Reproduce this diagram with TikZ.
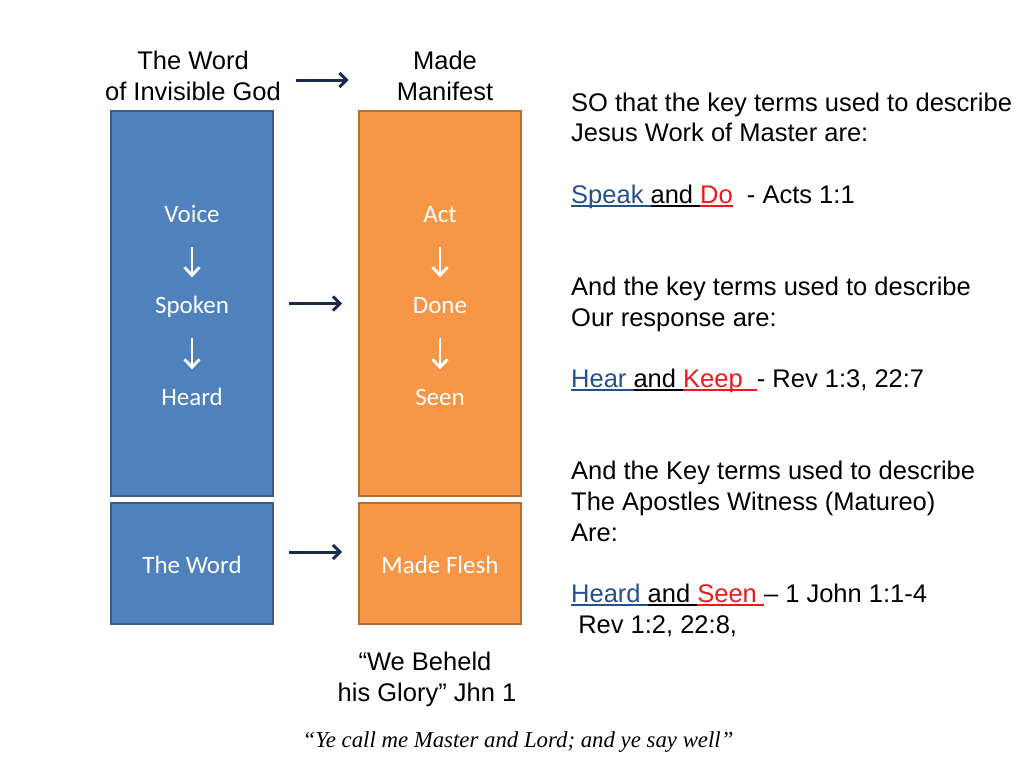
\documentclass[tikz,border=0pt]{standalone}
\usepackage{fontspec}
\setmainfont{Liberation Sans}
\newfontfamily\boxfont{Carlito}
\newfontfamily\quotefont{Liberation Serif}
\usepackage{xcolor}
\usepackage{tikz}
\usetikzlibrary{arrows.meta}
\definecolor{wordblue}{HTML}{4F81BD}
\definecolor{wordedge}{HTML}{385D8A}
\definecolor{fleshorange}{HTML}{F79646}
\definecolor{fleshedge}{HTML}{B66D31}
\definecolor{linknavy}{HTML}{1D2B4B}
\definecolor{speakblue}{HTML}{24508F}
\definecolor{dored}{HTML}{F01818}
% coloured text with a level underline
\newcommand{\ulc}[2]{{\color{#1}\setbox0\hbox{#2}\rlap{\rule[-3.6pt]{\wd0}{1.7pt}}\box0}}

\begin{document}
\begin{tikzpicture}[
  x=1pt, y=-1pt,
  colbox/.style={draw, line width=1.8pt, minimum width=162pt, inner sep=0pt},
  inbox/.style={font=\boxfont\fontsize{25}{29}\selectfont, text=white,
    anchor=base, inner sep=0pt, text height=16pt, text depth=5pt},
  title/.style={align=center, inner sep=0pt,
    font=\fontsize{25.5}{31}\selectfont},
  note/.style={anchor=base west, inner sep=0pt,
    font=\fontsize{25.5}{30.7}\selectfont},
  down/.style={draw=white, line width=2.8pt,
    -{Straight Barb[length=8pt, width=15pt]},
    shorten <=19.5pt, shorten >=19.5pt},
  link/.style={draw=linknavy, line width=3pt,
    -{Straight Barb[length=7pt, width=14pt]}}
]
  \useasboundingbox (0,0) rectangle (1024,768);

  % titles
  \node[title] (wordtitle) at (193,75.5) {The Word\\of Invisible God};
  \node[title] (madetitle) at (445,75.5) {Made\\Manifest};
  \draw[link, shorten <=15pt, shorten >=48pt]
    ([yshift=-4.5pt]wordtitle.east) -- ([yshift=-4.5pt]madetitle.west);

  % columns
  \node[colbox, fill=wordblue, draw=wordedge, minimum height=385pt]
    (wordup) at (192,303.5) {};
  \node[colbox, fill=wordblue, draw=wordedge, minimum height=121pt]
    (wordlow) at (192,563.5) {};
  \node[colbox, fill=fleshorange, draw=fleshedge, minimum height=385pt]
    (fleshup) at (440,303.5) {};
  \node[colbox, fill=fleshorange, draw=fleshedge, minimum height=121pt]
    (fleshlow) at (440,563.5) {};

  \node[inbox] (voice) at (192,222) {Voice};
  \node[inbox] (spoken) at (192,313) {Spoken};
  \node[inbox] (heard) at (192,405) {Heard};
  \node[inbox] (act) at (440,222) {Act};
  \node[inbox] (done) at (440,313) {Done};
  \node[inbox] (seen) at (440,405) {Seen};
  \node[inbox] (theword) at (192,573) {The Word};
  \node[inbox] (flesh) at (440,573) {Made Flesh};

  \draw[down] (voice) -- (spoken);
  \draw[down] (spoken) -- (heard);
  \draw[down] (act) -- (done);
  \draw[down] (done) -- (seen);

  \draw[link, shorten <=15pt, shorten >=16pt] (wordup) -- (fleshup);
  \draw[link, shorten <=15pt, shorten >=16pt]
    ([yshift=11.5pt]wordlow.east) -- ([yshift=11.5pt]fleshlow.west);

  % beneath the columns
  \node[anchor=base, inner sep=0pt, font=\fontsize{25.5}{31}\selectfont]
    (beheld) at (425,670) {``We Beheld};
  \node[anchor=base, inner sep=0pt, font=\fontsize{25.5}{31}\selectfont]
    (glory) at (427,701) {his Glory'' Jhn 1};
  \node[anchor=base, inner sep=0pt,
    font=\quotefont\itshape\fontsize{22.8}{27}\selectfont]
    (master) at (518,747) {“Ye call me Master and Lord; and ye say well”};

  % key terms
  \node[note] (so1) at (571,111) {SO that the key terms used to describe};
  \node[note] (so2) at (571,141.7) {Jesus Work of Master are:};
  \node[note] (speak) at (571,203)
    {\ulc{speakblue}{Speak\ }\ulc{black}{and\ }\ulc{dored}{Do}\ \ - Acts 1:1};
  \node[note] (key1) at (571,295) {And the key terms used to describe};
  \node[note] (key2) at (571,326) {Our response are:};
  \node[note] (hear) at (571,387)
    {\ulc{speakblue}{Hear\ }\ulc{black}{and\ }\ulc{dored}{Keep\ \ }- Rev 1:3, 22:7};
  \node[note] (wit1) at (571,479) {And the Key terms used to describe};
  \node[note] (wit2) at (571,510) {The Apostles Witness (Matureo)};
  \node[note] (wit3) at (571,541) {Are:};
  \node[note] (heardseen) at (571,602)
    {\ulc{speakblue}{Heard\ }\ulc{black}{and\ }\ulc{dored}{Seen\ }-- 1 John 1:1-4};
  \node[note] (rev) at (571,633) {\ Rev 1:2, 22:8,};
\end{tikzpicture}
\end{document}
